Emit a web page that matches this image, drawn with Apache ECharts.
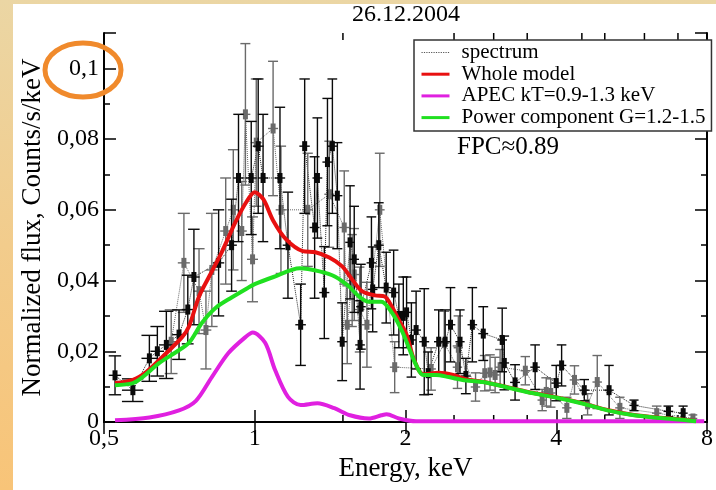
<!DOCTYPE html>
<html>
<head>
<meta charset="utf-8">
<script src="https://cdn.jsdelivr.net/npm/echarts@6/dist/echarts.min.js"></script>
<style>
  html, body { margin: 0; padding: 0; }
  body {
    width: 716px; height: 490px; overflow: hidden; position: relative;
    background: linear-gradient(180deg, #EBD6A4 0%, #F2CC8C 50%, #F8C478 100%);
  }
  #panel { position: absolute; left: 13px; top: 4px; width: 703px; height: 486px; background: #fff; }
  #chart { position: absolute; left: 0; top: 0; width: 716px; height: 490px; }
</style>
</head>
<body>
<div id="panel"></div>
<div id="chart"></div>
<script>
// axis ticks
var xTicks = [0.5, 1, 2, 4, 8];
var xMinorTicks = [1.5, 2.5, 3, 3.5, 4.5, 5, 6, 7];

// spectrum points: [energy keV, flux, flux error, energy half width]
var specBlack = [
  [0.526, 0.0132, 0.0055, 0.015], [0.571, 0.0090, 0.0032, 0.028], [0.616, 0.0180, 0.0065, 0.022],
  [0.639, 0.0200, 0.0070, 0.020], [0.666, 0.0218, 0.0095, 0.022], [0.706, 0.0247, 0.0070, 0.022],
  [0.735, 0.0318, 0.0097, 0.020], [0.756, 0.0410, 0.0135, 0.020], [0.847, 0.0450, 0.0150, 0.022],
  [0.899, 0.0500, 0.0130, 0.022], [0.928, 0.0690, 0.0180, 0.022], [0.984, 0.0690, 0.0160, 0.025],
  [1.016, 0.0780, 0.0190, 0.025], [1.039, 0.0690, 0.0180, 0.025], [1.123, 0.0690, 0.0200, 0.027],
  [1.165, 0.0500, 0.0150, 0.028], [1.235, 0.0275, 0.0115, 0.030], [1.258, 0.0780, 0.0190, 0.030],
  [1.317, 0.0550, 0.0200, 0.030], [1.334, 0.0690, 0.0170, 0.030], [1.377, 0.0366, 0.0130, 0.032],
  [1.397, 0.0735, 0.0180, 0.032], [1.429, 0.0780, 0.0190, 0.032], [1.462, 0.0640, 0.0150, 0.034],
  [1.495, 0.0227, 0.0110, 0.034], [1.550, 0.0508, 0.0160, 0.034], [1.580, 0.0460, 0.0150, 0.035],
  [1.623, 0.0218, 0.0125, 0.036], [1.630, 0.0326, 0.0120, 0.036], [1.710, 0.0450, 0.0130, 0.038],
  [1.720, 0.0375, 0.0120, 0.038], [1.769, 0.0500, 0.0120, 0.040], [1.830, 0.0380, 0.0100, 0.040],
  [1.894, 0.0366, 0.0120, 0.042], [1.940, 0.0300, 0.0090, 0.045], [1.980, 0.0300, 0.0110, 0.045],
  [2.010, 0.0310, 0.0100, 0.045], [2.055, 0.0232, 0.0105, 0.045], [2.100, 0.0260, 0.0110, 0.048],
  [2.180, 0.0227, 0.0150, 0.050], [2.220, 0.0138, 0.0060, 0.050], [2.330, 0.0227, 0.0090, 0.050],
  [2.400, 0.0227, 0.0090, 0.055], [2.460, 0.0275, 0.0105, 0.055], [2.570, 0.0227, 0.0090, 0.055],
  [2.640, 0.0130, 0.0050, 0.060], [2.720, 0.0275, 0.0105, 0.060], [2.860, 0.0250, 0.0076, 0.065],
  [3.120, 0.0232, 0.0090, 0.070], [3.150, 0.0167, 0.0076, 0.070], [3.310, 0.0112, 0.0050, 0.075],
  [3.630, 0.0155, 0.0063, 0.080], [4.000, 0.0110, 0.0050, 0.090], [4.100, 0.0160, 0.0058, 0.090],
  [4.550, 0.0090, 0.0030, 0.100], [5.100, 0.0090, 0.0070, 0.110], [5.720, 0.0047, 0.0015, 0.120],
  [6.700, 0.0030, 0.0015, 0.150], [7.170, 0.0025, 0.0020, 0.150]
];
var specGrey = [
  [0.681, 0.0227, 0.0090, 0.020], [0.722, 0.0450, 0.0140, 0.020], [0.774, 0.0370, 0.0120, 0.020],
  [0.799, 0.0260, 0.0110, 0.020], [0.821, 0.0430, 0.0160, 0.022], [0.875, 0.0540, 0.0150, 0.022],
  [0.906, 0.0600, 0.0170, 0.022], [0.942, 0.0540, 0.0140, 0.022], [0.958, 0.0870, 0.0200, 0.022],
  [0.990, 0.0460, 0.0120, 0.025], [1.007, 0.0790, 0.0180, 0.025], [1.088, 0.0830, 0.0190, 0.025],
  [1.128, 0.0600, 0.0180, 0.027], [1.276, 0.0600, 0.0160, 0.030], [1.409, 0.0644, 0.0150, 0.032],
  [1.509, 0.0550, 0.0160, 0.034], [1.530, 0.0275, 0.0110, 0.034], [1.565, 0.0400, 0.0130, 0.034],
  [1.580, 0.0417, 0.0130, 0.035], [1.620, 0.0318, 0.0120, 0.036], [1.675, 0.0275, 0.0120, 0.038],
  [1.777, 0.0600, 0.0160, 0.040], [1.903, 0.0155, 0.0072, 0.042], [2.250, 0.0150, 0.0060, 0.050],
  [2.390, 0.0223, 0.0090, 0.055], [2.540, 0.0155, 0.0060, 0.055], [2.550, 0.0210, 0.0090, 0.055],
  [2.760, 0.0099, 0.0040, 0.060], [2.880, 0.0138, 0.0050, 0.065], [2.950, 0.0140, 0.0050, 0.065],
  [3.020, 0.0133, 0.0050, 0.065], [3.090, 0.0155, 0.0050, 0.070], [3.470, 0.0145, 0.0040, 0.075],
  [3.750, 0.0062, 0.0030, 0.080], [3.820, 0.0085, 0.0040, 0.085], [3.900, 0.0082, 0.0040, 0.085],
  [4.200, 0.0040, 0.0030, 0.090], [4.350, 0.0119, 0.0040, 0.095], [4.620, 0.0050, 0.0030, 0.100],
  [4.830, 0.0113, 0.0075, 0.105], [5.360, 0.0040, 0.0030, 0.115], [6.350, 0.0025, 0.0020, 0.140],
  [7.500, 0.0010, 0.0010, 0.150]
];

// model curves: [energy keV, flux]
var wholeModel = [
  [0.526, 0.0110], [0.571, 0.0119], [0.608, 0.0142], [0.654, 0.0184], [0.716, 0.0240], [0.739, 0.0270],
  [0.774, 0.0355], [0.810, 0.0410], [0.859, 0.0480], [0.915, 0.0565], [0.960, 0.0620], [1.000, 0.0650],
  [1.040, 0.0630], [1.088, 0.0570], [1.154, 0.0517], [1.247, 0.0483], [1.322, 0.0480], [1.409, 0.0465],
  [1.495, 0.0440], [1.565, 0.0403], [1.637, 0.0370], [1.737, 0.0358], [1.818, 0.0355], [1.877, 0.0327],
  [1.937, 0.0290], [2.010, 0.0247], [2.080, 0.0176], [2.170, 0.0135], [2.330, 0.0139], [2.490, 0.0133],
  [2.640, 0.0121], [2.850, 0.0114], [3.170, 0.0100], [3.510, 0.0085], [3.970, 0.0071], [4.490, 0.0054],
  [5.060, 0.0034], [5.720, 0.0020], [6.460, 0.0012], [7.270, 0.0006], [7.610, 0.0003]
];
var apecModel = [
  [0.526, 0.0005], [0.616, 0.0013], [0.706, 0.0033], [0.763, 0.0060], [0.821, 0.0127], [0.886, 0.0195],
  [0.958, 0.0240], [0.991, 0.0253], [1.049, 0.0224], [1.098, 0.0147], [1.165, 0.0071], [1.235, 0.0048],
  [1.334, 0.0053], [1.442, 0.0039], [1.550, 0.0019], [1.690, 0.0010], [1.790, 0.0019], [1.834, 0.0022],
  [1.940, 0.0010], [2.100, 0.0002], [3.000, 0.0002], [5.000, 0.0002], [7.900, 0.0002]
];
var powerModel = [
  [0.526, 0.0104], [0.571, 0.0110], [0.597, 0.0127], [0.645, 0.0167], [0.697, 0.0198], [0.739, 0.0224],
  [0.784, 0.0280], [0.836, 0.0323], [0.899, 0.0352], [0.971, 0.0380], [1.000, 0.0390], [1.090, 0.0410],
  [1.230, 0.0435], [1.347, 0.0426], [1.448, 0.0411], [1.543, 0.0383], [1.615, 0.0355], [1.690, 0.0340],
  [1.790, 0.0340], [1.877, 0.0310], [1.964, 0.0260], [2.040, 0.0204], [2.100, 0.0161], [2.170, 0.0133],
  [2.300, 0.0133], [2.440, 0.0127], [2.600, 0.0119], [2.850, 0.0113], [3.170, 0.0099], [3.510, 0.0084],
  [3.970, 0.0070], [4.490, 0.0053], [5.060, 0.0033], [5.720, 0.0019], [6.460, 0.0011], [7.270, 0.0005],
  [7.610, 0.0002]
];

var serif = 'Liberation Serif';

function commaNum(v) {
  return String(+v.toFixed(2)).replace('.', ',');
}

// error bars with caps and a small box at the point
function errRender(color) {
  return function (params, api) {
    var e = api.value(0), f = api.value(1), df = api.value(2), de = api.value(3);
    var c = api.coord([e, f]);
    var top = api.coord([e, f + df]);
    var bot = api.coord([e, Math.max(f - df, 0)]);
    var lft = api.coord([e - de, f]);
    var rgt = api.coord([e + de, f]);
    var st = { stroke: color, lineWidth: 1.4 };
    var kids = [
      { type: 'line', shape: { x1: c[0], y1: top[1], x2: c[0], y2: bot[1] }, style: st },
      { type: 'line', shape: { x1: lft[0], y1: top[1], x2: rgt[0], y2: top[1] }, style: st },
      { type: 'line', shape: { x1: lft[0], y1: c[1], x2: rgt[0], y2: c[1] }, style: st },
      { type: 'rect', shape: { x: c[0] - 2.5, y: c[1] - 5, width: 5, height: 10 }, style: { fill: color } }
    ];
    if (f - df > 0) {
      kids.push({ type: 'line', shape: { x1: lft[0], y1: bot[1], x2: rgt[0], y2: bot[1] }, style: st });
    }
    return { type: 'group', children: kids };
  };
}

function minorTickRender(params, api) {
  var e = api.value(0);
  var b = api.coord([e, 0]);
  var t = api.coord([e, 0.11]);
  var st = { stroke: '#000', lineWidth: 1.5 };
  return { type: 'group', children: [
    { type: 'line', shape: { x1: b[0], y1: b[1], x2: b[0], y2: b[1] - 7 }, style: st },
    { type: 'line', shape: { x1: t[0], y1: t[1], x2: t[0], y2: t[1] + 7 }, style: st }
  ]};
}

var chart = echarts.init(document.getElementById('chart'));

var axisLineStyle = { show: true, lineStyle: { color: '#000', width: 2 } };
var hideSymbol = { opacity: 0 };

var option = {
  animation: false,
  backgroundColor: 'transparent',
  textStyle: { fontFamily: serif, color: '#000' },
  title: {
    text: '26.12.2004',
    left: 352,
    top: 3,
    padding: 0,
    textStyle: { fontFamily: serif, fontSize: 24, fontWeight: 'normal', color: '#000' }
  },
  grid: { left: 104, top: 33, right: 3, bottom: 68 },
  legend: {
    orient: 'vertical',
    left: 414,
    top: 40,
    padding: [2, 6, 3, 6],
    itemGap: 0.7,
    itemWidth: 28,
    itemHeight: 14,
    backgroundColor: '#fff',
    borderColor: '#333',
    borderWidth: 1.5,
    borderRadius: 0,
    z: 20,
    textStyle: { fontFamily: serif, fontSize: 21, color: '#000', lineHeight: 21, padding: [0, 0, 0, 7] },
    data: [
      { name: 'spectrum', itemStyle: hideSymbol, lineStyle: { color: '#555', width: 1.2, type: 'dotted' } },
      { name: 'Whole model', itemStyle: hideSymbol, lineStyle: { color: '#e81010', width: 3 } },
      { name: 'APEC kT=0.9-1.3 keV', itemStyle: hideSymbol, lineStyle: { color: '#e020e0', width: 3 } },
      { name: 'Power component G=1.2-1.5', itemStyle: hideSymbol, lineStyle: { color: '#20e020', width: 3 } }
    ]
  },
  xAxis: [{
    type: 'log',
    logBase: 2,
    min: 0.5,
    max: 8,
    position: 'bottom',
    name: 'Energy, keV',
    nameLocation: 'middle',
    nameGap: 33,
    nameTextStyle: { fontFamily: serif, fontSize: 27, color: '#000' },
    axisLine: axisLineStyle,
    axisTick: { inside: true, length: 12, lineStyle: { color: '#000', width: 1.5 } },
    axisLabel: {
      fontFamily: serif, fontSize: 24, color: '#000', margin: 5,
      formatter: function (v) { return commaNum(v); }
    },
    splitLine: { show: false }
  }, {
    type: 'log',
    logBase: 2,
    min: 0.5,
    max: 8,
    position: 'top',
    axisLine: axisLineStyle,
    axisTick: { inside: true, length: 12, lineStyle: { color: '#000', width: 1.5 } },
    axisLabel: { show: false },
    splitLine: { show: false }
  }],
  yAxis: [{
    type: 'value',
    min: 0,
    max: 0.11,
    interval: 0.02,
    position: 'left',
    name: 'Normalized flux, Counts/s/keV',
    nameLocation: 'middle',
    nameGap: 50,
    nameTextStyle: { fontFamily: serif, fontSize: 27, color: '#000' },
    axisLine: axisLineStyle,
    axisTick: { inside: true, length: 12, lineStyle: { color: '#000', width: 1.5 } },
    minorTick: { show: true, splitNumber: 2, length: 6, lineStyle: { color: '#000', width: 1.5 } },
    axisLabel: {
      fontFamily: serif, fontSize: 24, color: '#000', margin: 5,
      formatter: function (v) { return v > 0.105 ? '' : commaNum(v); }
    },
    splitLine: { show: false }
  }, {
    type: 'value',
    min: 0,
    max: 0.11,
    interval: 0.02,
    position: 'right',
    axisLine: axisLineStyle,
    axisTick: { inside: true, length: 12, lineStyle: { color: '#000', width: 1.5 } },
    minorTick: { show: true, splitNumber: 2, length: 6, lineStyle: { color: '#000', width: 1.5 } },
    axisLabel: { show: false },
    splitLine: { show: false }
  }],
  series: [
    {
      name: 'spectrum',
      type: 'line',
      symbol: 'none',
      itemStyle: { color: '#666' },
      lineStyle: { color: '#666', width: 1, type: 'dotted' },
      data: specGrey.map(function (p) { return [p[0], p[1]]; }),
      z: 2
    },
    {
      name: 'spectrum',
      type: 'line',
      symbol: 'none',
      itemStyle: { color: '#222' },
      lineStyle: { color: '#222', width: 1, type: 'dotted' },
      data: specBlack.map(function (p) { return [p[0], p[1]]; }),
      z: 2
    },
    {
      name: 'greyErr',
      type: 'custom',
      renderItem: errRender('#6a6a6a'),
      clip: true,
      data: specGrey,
      z: 3
    },
    {
      name: 'blackErr',
      type: 'custom',
      renderItem: errRender('#0a0a0a'),
      clip: true,
      data: specBlack,
      z: 3
    },
    {
      name: 'xMinor',
      type: 'custom',
      renderItem: minorTickRender,
      data: xMinorTicks.map(function (v) { return [v]; }),
      z: 1
    },
    {
      name: 'Whole model',
      type: 'line',
      symbol: 'none',
      smooth: 0.3,
      itemStyle: { color: '#e81010' },
      lineStyle: { color: '#e81010', width: 4 },
      data: wholeModel,
      z: 5
    },
    {
      name: 'APEC kT=0.9-1.3 keV',
      type: 'line',
      symbol: 'none',
      smooth: 0.3,
      itemStyle: { color: '#e020e0' },
      lineStyle: { color: '#e020e0', width: 4 },
      data: apecModel,
      z: 5
    },
    {
      name: 'Power component G=1.2-1.5',
      type: 'line',
      symbol: 'none',
      smooth: 0.3,
      itemStyle: { color: '#20e020' },
      lineStyle: { color: '#20e020', width: 4 },
      data: powerModel,
      z: 6
    }
  ],
  graphic: [
    {
      type: 'text',
      left: 457,
      top: 135,
      z: 30,
      style: { text: 'FPC\u22480.89', font: '25px "Liberation Serif"', fill: '#000' }
    },
    {
      type: 'ellipse',
      shape: { cx: 83, cy: 70, rx: 38, ry: 27 },
      z: 30,
      style: { fill: 'none', stroke: '#F08A2C', lineWidth: 5 }
    }
  ]
};

chart.setOption(option);
</script>
</body>
</html>
